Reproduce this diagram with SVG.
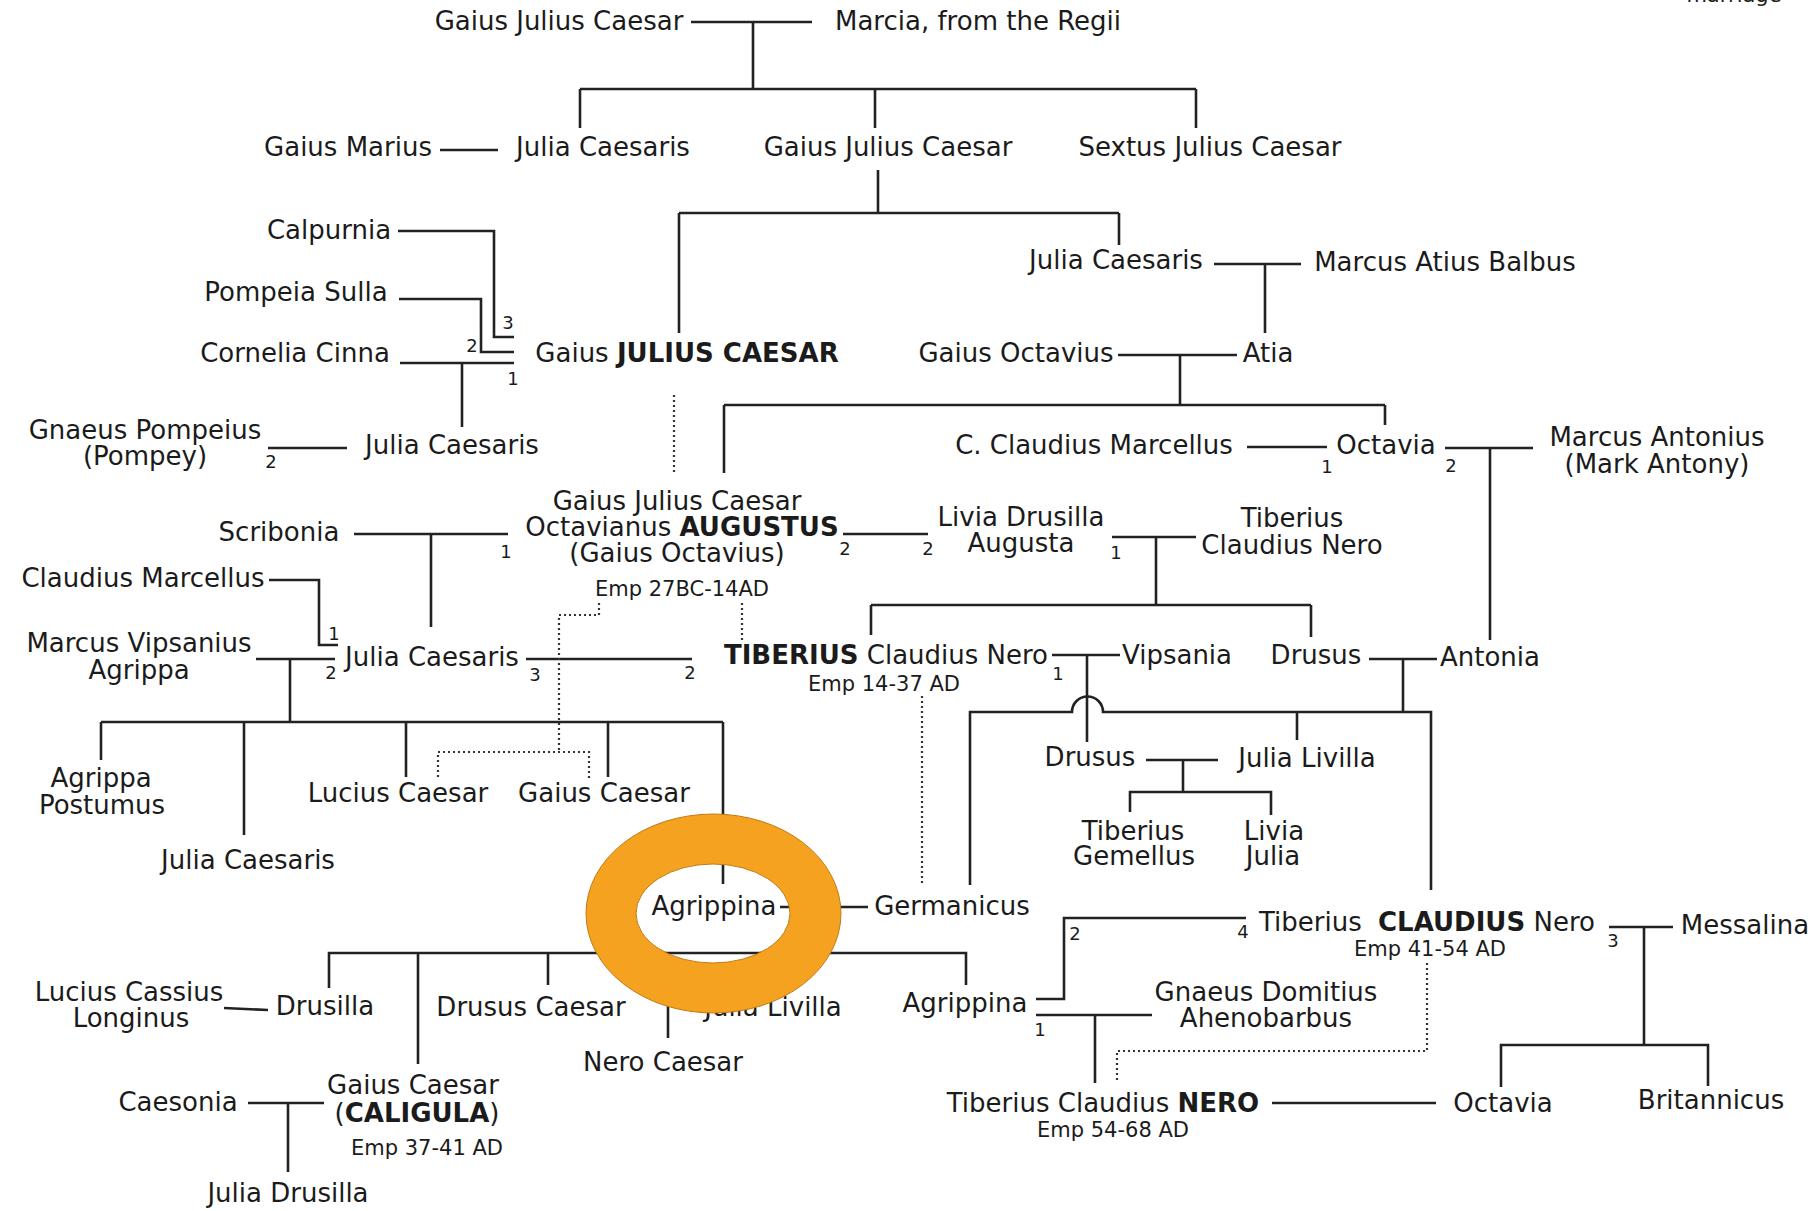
<svg xmlns="http://www.w3.org/2000/svg" width="1819" height="1211" viewBox="0 0 1819 1211">
<style>
text{font-family:"DejaVu Sans","Liberation Sans",sans-serif;fill:#1b1b1b;text-anchor:middle}
.n{font-size:26px}
.s{font-size:21px}
.num{font-size:18px}
.b{font-weight:bold}
.c{fill:none;stroke:#222;stroke-width:2.6}
.d{fill:none;stroke:#333;stroke-width:2.2;stroke-dasharray:2 3}
</style>
<rect width="1819" height="1211" fill="#fff"/>
<g id="connectors">
<path class="c" d="M691 22H812M753 22V89M580 89H1196M580 89V128M875 89V128M1196 89V128"/>
<path class="c" d="M440 150H498"/>
<path class="c" d="M878 170V213M679 213H1119M679 213V333M1119 213V245"/>
<path class="c" d="M398 231H494V337H514M399 299H481V352H514M400 363H514M462 363V427"/>
<path class="c" d="M1214 264H1301M1265 264V333"/>
<path class="c" d="M1118 355H1237M1180 355V405M724 405H1385M724 405V473M1385 405V425"/>
<path class="c" d="M268 448H347"/>
<path class="c" d="M1247 447H1327M1445 448H1533M1490 448V640"/>
<path class="c" d="M354 534H508M431 534V627"/>
<path class="c" d="M843 534H928"/>
<path class="c" d="M1112 537H1196M1156 537V605M871 605H1311M871 605V635M1311 605V637"/>
<path class="c" d="M269 580H319V645H338"/>
<path class="c" d="M256 659H335M290 659V722M101 722H723M101 722V760M244 722V835M406 722V777M608 722V777M723 722V884"/>
<path class="c" d="M526 659H692"/>
<path class="c" d="M1052 655H1120M1087 655V742"/>
<path class="c" d="M1369 659H1437M1403 659V712M970 885V712H1072A15.5 15.5 0 0 1 1103 712H1431V890M1297 712V740"/>
<path class="c" d="M1146 760H1218M1183 760V792M1130 812V792H1271V815"/>
<path class="c" d="M780 907H868M824 907V953M329 988V953H966V985M418 953V1064M548 953V985M668 953V1038M773 953V985"/>
<path class="c" d="M224 1008L268 1010"/>
<path class="c" d="M248 1103H324M288 1103V1172"/>
<path class="c" d="M1036 999H1064V918H1246"/>
<path class="c" d="M1036 1015H1152M1095 1015V1083"/>
<path class="c" d="M1609 927H1673M1644 927V1045M1501 1087V1045H1708V1086"/>
<path class="c" d="M1272 1103H1436"/>
<path class="d" d="M674 395V473"/>
<path class="d" d="M599 603V615H559V752M438 777V752H589V780"/>
<path class="d" d="M742 603V640"/>
<path class="d" d="M922 696V884"/>
<path class="d" d="M1427 963V1051H1117V1083"/>
</g>
<g id="numbers" class="num">
<text x="508" y="329">3</text><text x="472" y="352">2</text><text x="513" y="385">1</text>
<text x="271" y="468">2</text><text x="1327" y="473">1</text><text x="1451" y="472">2</text>
<text x="506" y="558">1</text><text x="845" y="555">2</text><text x="928" y="555">2</text>
<text x="1116" y="559">1</text><text x="334" y="640">1</text><text x="331" y="679">2</text>
<text x="535" y="681">3</text><text x="690" y="679">2</text><text x="1058" y="680">1</text>
<text x="1075" y="940">2</text><text x="1243" y="938">4</text><text x="1613" y="947">3</text>
<text x="1040" y="1036">1</text>
</g>
<g id="legend"><text class="s" x="1734" y="2">marriage</text></g>
<g id="n-gjc-elder"><text class="n" x="559" y="30">Gaius Julius Caesar</text></g>
<g id="n-marcia"><text class="n" x="978" y="30">Marcia, from the Regii</text></g>
<g id="n-marius"><text class="n" x="348" y="156">Gaius Marius</text></g>
<g id="n-julia1"><text class="n" x="603" y="156">Julia Caesaris</text></g>
<g id="n-gjc-father"><text class="n" x="888" y="156">Gaius Julius Caesar</text></g>
<g id="n-sextus"><text class="n" x="1210" y="156">Sextus Julius Caesar</text></g>
<g id="n-calpurnia"><text class="n" x="329" y="239">Calpurnia</text></g>
<g id="n-pompeia"><text class="n" x="296" y="301">Pompeia Sulla</text></g>
<g id="n-cornelia"><text class="n" x="295" y="362">Cornelia Cinna</text></g>
<g id="n-caesar"><text class="n" x="687" y="362">Gaius <tspan class="b">JULIUS CAESAR</tspan></text></g>
<g id="n-julia2"><text class="n" x="1116" y="269">Julia Caesaris</text></g>
<g id="n-balbus"><text class="n" x="1445" y="271">Marcus Atius Balbus</text></g>
<g id="n-octavius"><text class="n" x="1016" y="362">Gaius Octavius</text></g>
<g id="n-atia"><text class="n" x="1268" y="362">Atia</text></g>
<g id="n-pompey"><text class="n" x="145" y="439">Gnaeus Pompeius</text><text class="n" x="145" y="465">(Pompey)</text></g>
<g id="n-julia3"><text class="n" x="452" y="454">Julia Caesaris</text></g>
<g id="n-marcellus"><text class="n" x="1094" y="454">C. Claudius Marcellus</text></g>
<g id="n-octavia"><text class="n" x="1386" y="454">Octavia</text></g>
<g id="n-antony"><text class="n" x="1657" y="446">Marcus Antonius</text><text class="n" x="1657" y="473">(Mark Antony)</text></g>
<g id="n-augustus"><text class="n" x="677" y="510">Gaius Julius Caesar</text><text class="n" x="682" y="536">Octavianus <tspan class="b">AUGUSTUS</tspan></text><text class="n" x="677" y="562">(Gaius Octavius)</text><text class="s" x="682" y="596">Emp 27BC-14AD</text></g>
<g id="n-scribonia"><text class="n" x="279" y="541">Scribonia</text></g>
<g id="n-livia"><text class="n" x="1021" y="526">Livia Drusilla</text><text class="n" x="1021" y="552">Augusta</text></g>
<g id="n-tcn"><text class="n" x="1292" y="527">Tiberius</text><text class="n" x="1292" y="554">Claudius Nero</text></g>
<g id="n-cmarcellus"><text class="n" x="143" y="587">Claudius Marcellus</text></g>
<g id="n-agrippa"><text class="n" x="139" y="652">Marcus Vipsanius</text><text class="n" x="139" y="679">Agrippa</text></g>
<g id="n-julia4"><text class="n" x="432" y="666">Julia Caesaris</text></g>
<g id="n-tiberius"><text class="n" x="886" y="664"><tspan class="b">TIBERIUS</tspan> Claudius Nero</text><text class="s" x="884" y="691">Emp 14-37 AD</text></g>
<g id="n-vipsania"><text class="n" x="1177" y="664">Vipsania</text></g>
<g id="n-drusus1"><text class="n" x="1316" y="664">Drusus</text></g>
<g id="n-antonia"><text class="n" x="1490" y="666">Antonia</text></g>
<g id="n-postumus"><text class="n" x="101" y="787">Agrippa</text><text class="n" x="102" y="814">Postumus</text></g>
<g id="n-lucius"><text class="n" x="398" y="802">Lucius Caesar</text></g>
<g id="n-gaius"><text class="n" x="604" y="802">Gaius Caesar</text></g>
<g id="n-drusus2"><text class="n" x="1090" y="766">Drusus</text></g>
<g id="n-livilla1"><text class="n" x="1307" y="767">Julia Livilla</text></g>
<g id="n-gemellus"><text class="n" x="1133" y="840">Tiberius</text><text class="n" x="1134" y="865">Gemellus</text></g>
<g id="n-liviajulia"><text class="n" x="1274" y="840">Livia</text><text class="n" x="1273" y="865">Julia</text></g>
<g id="n-julia5"><text class="n" x="248" y="869">Julia Caesaris</text></g>
<g id="n-agrippina1"><text class="n" x="714" y="915">Agrippina</text></g>
<g id="n-germanicus"><text class="n" x="952" y="915">Germanicus</text></g>
<g id="n-claudius"><text class="n" x="1427" y="931">Tiberius<tspan dx="8"> </tspan><tspan class="b">CLAUDIUS</tspan> Nero</text><text class="s" x="1430" y="956">Emp 41-54 AD</text></g>
<g id="n-messalina"><text class="n" x="1745" y="934">Messalina</text></g>
<g id="n-longinus"><text class="n" x="129" y="1001">Lucius Cassius</text><text class="n" x="131" y="1027">Longinus</text></g>
<g id="n-drusilla"><text class="n" x="325" y="1015">Drusilla</text></g>
<g id="n-drususcaesar"><text class="n" x="531" y="1016">Drusus Caesar</text></g>
<g id="n-livilla2"><text class="n" x="773" y="1016">Julia Livilla</text></g>
<g id="n-agrippina2"><text class="n" x="965" y="1012">Agrippina</text></g>
<g id="n-ahenobarbus"><text class="n" x="1266" y="1001">Gnaeus Domitius</text><text class="n" x="1266" y="1027">Ahenobarbus</text></g>
<g id="n-nerocaesar"><text class="n" x="663" y="1071">Nero Caesar</text></g>
<g id="n-caligula"><text class="n" x="413" y="1094">Gaius Caesar</text><text class="n" x="417" y="1122">(<tspan class="b">CALIGULA</tspan>)</text><text class="s" x="427" y="1155">Emp 37-41 AD</text></g>
<g id="n-caesonia"><text class="n" x="178" y="1111">Caesonia</text></g>
<g id="n-nero"><text class="n" x="1103" y="1112">Tiberius Claudius <tspan class="b">NERO</tspan></text><text class="s" x="1113" y="1137">Emp 54-68 AD</text></g>
<g id="n-octavia2"><text class="n" x="1503" y="1112">Octavia</text></g>
<g id="n-britannicus"><text class="n" x="1711" y="1109">Britannicus</text></g>
<g id="n-juliadrusilla"><text class="n" x="288" y="1202">Julia Drusilla</text></g>
<g id="highlight-ring"><path d="M586 913.5a127.5 99.5 0 1 0 255 0a127.5 99.5 0 1 0 -255 0ZM636 913.5a77 49.5 0 1 1 154 0a77 49.5 0 1 1 -154 0Z" fill="#F4A21F" fill-rule="evenodd" stroke="#C07C14" stroke-width="1"/></g>
</svg>
